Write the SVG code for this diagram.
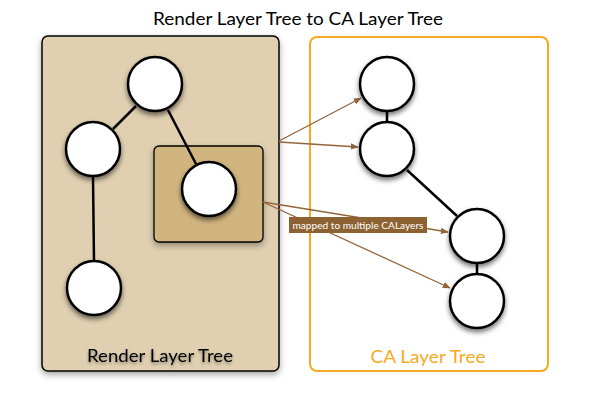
<svg xmlns="http://www.w3.org/2000/svg" width="604" height="402" viewBox="0 0 604 402">
<style>
.node{fill:#fff;stroke:#000;stroke-width:2.5;filter:url(#sh)}
.edge{stroke:#000;stroke-width:2.5;fill:none}
.map{stroke:#93643a;stroke-width:1.3;fill:none;marker-end:url(#ah)}
.t{font-family:Lato,"Liberation Sans",sans-serif}
</style>
<defs>
<filter id="sh" x="-30%" y="-30%" width="160%" height="170%"><feDropShadow dx="0" dy="3" stdDeviation="2.5" flood-color="#000" flood-opacity="0.55"/></filter>
<filter id="bsh" x="-10%" y="-10%" width="120%" height="120%"><feDropShadow dx="0" dy="3" stdDeviation="3" flood-color="#000" flood-opacity="0.35"/></filter>
<filter id="tsh" x="-10%" y="-30%" width="120%" height="170%"><feDropShadow dx="0" dy="2" stdDeviation="1.5" flood-color="#000" flood-opacity="0.4"/></filter>
<marker id="ah" viewBox="0 0 10 10" refX="9" refY="5" markerWidth="8" markerHeight="8" markerUnits="userSpaceOnUse" orient="auto"><path d="M0,1 L10,5 L0,9 Z" fill="#93643a"/></marker>
</defs>
<rect width="604" height="402" fill="#fff"/>
<text class="t" x="298" y="25" font-size="18" text-anchor="middle" textLength="290" lengthAdjust="spacingAndGlyphs">Render Layer Tree to CA Layer Tree</text>
<g id="renderTree">
<rect x="42" y="36" width="237" height="335" rx="6" fill="#e0d0b1" stroke="#000" stroke-width="1.5" filter="url(#bsh)"/>
<text class="t" x="160" y="362" font-size="17" text-anchor="middle" textLength="146" lengthAdjust="spacingAndGlyphs" filter="url(#tsh)">Render Layer Tree</text>
</g>
<g id="innerBox">
<rect x="154" y="146" width="109" height="96" rx="5" fill="#d1b57f" stroke="#000" stroke-width="1.3" filter="url(#bsh)"/>
</g>
<g id="caTree">
<rect x="310" y="37" width="238" height="334" rx="7" fill="#fff" stroke="#f7a91f" stroke-width="2"/>
<text class="t" x="428" y="363" font-size="17" fill="#f7a91f" text-anchor="middle" textLength="115" lengthAdjust="spacingAndGlyphs">CA Layer Tree</text>
</g>
<g id="connectors">
<line class="edge" x1="136" y1="106" x2="113" y2="129"/>
<line class="edge" x1="168" y1="110" x2="196" y2="164"/>
<line class="edge" x1="93" y1="177" x2="94" y2="261"/>
<line class="edge" x1="387" y1="110" x2="387" y2="123" stroke-width="3"/>
<line class="edge" x1="407" y1="170" x2="457" y2="216"/>
<line class="edge" x1="477" y1="262" x2="477" y2="275" stroke-width="3"/>
<line class="map" x1="279" y1="141" x2="361" y2="98"/>
<line class="map" x1="279" y1="142" x2="358" y2="147"/>
<line class="map" x1="263" y1="202" x2="448" y2="232"/>
<line class="map" x1="263" y1="202" x2="450" y2="288"/>
</g>
<g id="r1"><circle class="node" cx="155" cy="84" r="27"/></g>
<g id="r2"><circle class="node" cx="93" cy="149" r="27"/></g>
<g id="r3"><circle class="node" cx="209" cy="189" r="27"/></g>
<g id="r4"><circle class="node" cx="94" cy="288" r="27"/></g>
<g id="c1"><circle class="node" cx="387" cy="84" r="27"/></g>
<g id="c2"><circle class="node" cx="387" cy="149" r="27"/></g>
<g id="c3"><circle class="node" cx="477" cy="236" r="27"/></g>
<g id="c4"><circle class="node" cx="477" cy="301" r="27"/></g>
<g id="label">
<rect x="289" y="217" width="138" height="16" fill="#8d6233"/>
<text class="t" x="358" y="229" font-size="9" fill="#fff" text-anchor="middle" textLength="131" lengthAdjust="spacingAndGlyphs">mapped to multiple CALayers</text>
</g>
</svg>
